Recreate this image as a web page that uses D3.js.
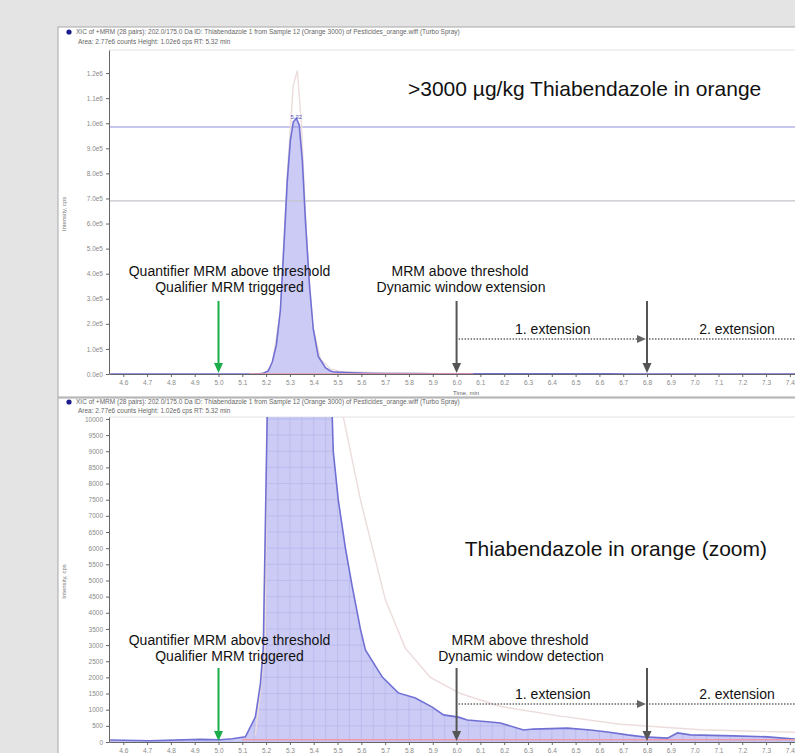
<!DOCTYPE html>
<html>
<head>
<meta charset="utf-8">
<style>
       body {
              margin: 0;
              background: #e4e4e4;
              font-family: "Liberation Sans", Arial, sans-serif;
       }
       svg {
              display: block;
       }
       .axis text {
              font-size: 6.5px;
              fill: #8a8a8a;
       }
       .axis path, .axis line {
              stroke: #666;
       }
       .header {
              font-size: 6.5px;
              fill: #666;
       }
       .note {
              font-size: 14px;
              fill: #111;
              text-anchor: middle;
       }
       .title {
              font-size: 21px;
              fill: #111;
       }
</style>
</head>
<body>
<script src="https://d3js.org/d3.v7.min.js"></script>
<script>

     // retention time (min) and counts of the quantifier trace (blue)
     var quantTime = [4.545, 4.713, 4.924, 5.008, 5.058, 5.113, 5.155, 5.176, 5.188, 5.209,
5.226, 5.243, 5.260, 5.276, 5.289, 5.302, 5.314, 5.327, 5.339, 5.352, 5.365, 5.382, 5.398,
5.419, 5.449, 5.470, 5.482, 5.503, 5.533, 5.562, 5.596, 5.617, 5.688, 5.755, 5.827, 5.898,
5.945, 6.008, 6.045, 6.142, 6.184, 6.281, 6.323, 6.466, 6.562, 6.634, 6.718, 6.785, 6.886,
6.928, 6.982, 7.163, 7.306, 7.424],
         quantCounts = [60, 40, 80, 70, 100, 160, 780, 1800, 2900, 12000, 48000, 116000,
255000, 534000, 773000, 933000, 1005000, 1020000, 993000, 853000, 614000, 355000, 180000,
70000, 25000, 12000, 9000, 7500, 6000, 4800, 3500, 2850, 2010, 1520, 1360, 1080, 840, 770,
680, 620, 590, 370, 400, 430, 370, 310, 220, 160, 120, 280, 220, 190, 160, 90];

     // qualifier trace (faint)
     var qualTime = [5.155, 5.197, 5.226, 5.260, 5.289, 5.314, 5.331, 5.348, 5.369, 5.394,
5.428, 5.470, 5.512, 5.596, 5.701, 5.785, 5.890, 6.016, 6.184, 6.436, 6.688, 7.024, 7.424],
         qualCounts = [200, 3000, 40000, 250000, 800000, 1150000, 1210000, 1000000, 560000,
200000, 60000, 20000, 10500, 7500, 4400, 2900, 2000, 1500, 1100, 800, 550, 380, 300];

     // red trace near the baseline
     var redTimeTop = [5.13, 6.07],
         redTimeZoom = [5.10, 7.43],
         redCounts = [70, 70];

     var thresholdCounts = [985000, 690000],
         apexTime = 5.327, apexCounts = 1020000, apexLabel = "5.32";

     var timeTicks = [4.6, 4.7, 4.8, 4.9, 5.0, 5.1, 5.2, 5.3, 5.4, 5.5, 5.6, 5.7, 5.8, 5.9,
6.0, 6.1, 6.2, 6.3, 6.4, 6.5, 6.6, 6.7, 6.8, 6.9, 7.0, 7.1, 7.2, 7.3, 7.4];

     var topTicks = [0, 1e5, 2e5, 3e5, 4e5, 5e5, 6e5, 7e5, 8e5, 9e5, 1e6, 1.1e6, 1.2e6],
         topTickLabels = ["0.0e0", "1.0e5", "2.0e5", "3.0e5", "4.0e5", "5.0e5", "6.0e5",
"7.0e5", "8.0e5", "9.0e5", "1.0e6", "1.1e6", "1.2e6"];

     var zoomTicks = [0, 500, 1000, 1500, 2000, 2500, 3000, 3500, 4000, 4500, 5000, 5500,
6000, 6500, 7000, 7500, 8000, 8500, 9000, 9500, 10000];

     // triggered at / window extension at
     var arrowTimes = [5.0, 6.0, 6.8];

     var width = 795,
         height = 753,
         plotLeft = 109,
         plotRight = 800;

     var svg = d3.select("body").append("svg")
          .attr("width", width)
          .attr("height", height);

     var defs = svg.append("defs");

     var x = d3.scaleLinear().domain([4.54, 7.43]).range([109, 797]);

     var panels = [
       { top: 27, bottom: 397, h1: 34, h2: 44, plotTop: 50, base: 374, yMax: 1.292e6,
         ticks: topTicks, labels: topTickLabels, grid: false, redTime: redTimeTop,
         title: ">3000 µg/kg Thiabendazole in orange", titleX: 408, titleY: 96, titleAnchor: "start",
         n1: 276, n2: 292, arrowTop: 301, tip: 373, dotY: 339, mrmX: 460, mrm2: "Dynamic window extension",
         headText: "XIC of +MRM (28 pairs): 202.0/175.0 Da ID: Thiabendazole 1 from Sample 12 (Orange 3000) of Pesticides_orange.wiff (Turbo Spray)",
         areaText: "Area: 2.77e6 counts  Height: 1.02e6 cps  RT: 5.32 min" },
       { top: 398, bottom: 760, h1: 404, h2: 413, plotTop: 417, base: 742, yMax: 10060,
         ticks: zoomTicks, labels: zoomTicks.map(String), grid: true, redTime: redTimeZoom,
         title: "Thiabendazole in orange (zoom)", titleX: 767, titleY: 556, titleAnchor: "end",
         n1: 645, n2: 661, arrowTop: 668, tip: 741, dotY: 704, mrmX: 520, mrm2: "Dynamic window detection",
         headText: "XIC of +MRM (28 pairs): 202.0/175.0 Da ID: Thiabendazole 1 from Sample 12 (Orange 3000) of Pesticides_orange.wiff (Turbo Spray)",
         areaText: "Area: 2.77e6 counts  Height: 1.02e6 cps  RT: 5.32 min" }
     ];

     panels.forEach(function(p, i) {

       var y = d3.scaleLinear().domain([0, p.yMax]).range([p.base, p.plotTop]);

       var g = svg.append("g");

       g.append("rect")
          .attr("x", 58).attr("y", p.top)
          .attr("width", plotRight - 58).attr("height", p.bottom - p.top)
          .attr("fill", "#fff")
          .attr("stroke", "#a8a8a8");

       g.append("circle")
          .attr("cx", 69).attr("cy", p.h1 - 2).attr("r", 2.6)
          .attr("fill", "#1c1c8c");

       g.append("text").attr("class", "header")
          .attr("x", 76).attr("y", p.h1)
          .text(p.headText);

       g.append("text").attr("class", "header")
          .attr("x", 78).attr("y", p.h2)
          .text(p.areaText);

       g.append("line")
          .attr("x1", plotLeft).attr("x2", plotRight)
          .attr("y1", p.plotTop).attr("y2", p.plotTop)
          .attr("stroke", "#e2e2e2");

       defs.append("clipPath").attr("id", "plot" + i)
         .append("rect")
          .attr("x", plotLeft).attr("y", p.plotTop)
          .attr("width", plotRight - plotLeft).attr("height", p.base - p.plotTop + 1);

       var plot = g.append("g").attr("clip-path", "url(#plot" + i + ")");

       var area = d3.area()
          .x(function(d) { return x(quantTime[d]); })
          .y0(y(0))
          .y1(function(d) { return y(quantCounts[d]); });

       var line = d3.line()
          .x(function(d) { return x(quantTime[d]); })
          .y(function(d) { return y(quantCounts[d]); });

       var idx = d3.range(quantTime.length);

       plot.append("path")
          .attr("d", area(idx))
          .attr("fill", "#cbcbf6");

       if (p.grid) {
         defs.append("clipPath").attr("id", "fill" + i)
           .append("path").attr("d", area(idx));

         var grid = plot.append("g")
            .attr("clip-path", "url(#fill" + i + ")")
            .attr("stroke", "#b2b2e8")
            .attr("stroke-width", 0.6);

         grid.selectAll("line.v")
             .data(x.ticks(60))
           .enter().append("line")
             .attr("x1", function(d) { return x(d); })
             .attr("x2", function(d) { return x(d); })
             .attr("y1", p.plotTop).attr("y2", p.base);

         grid.selectAll("line.h")
             .data(y.ticks(20))
           .enter().append("line")
             .attr("x1", plotLeft).attr("x2", plotRight)
             .attr("y1", function(d) { return y(d); })
             .attr("y2", function(d) { return y(d); });
       }

       if (i == 0) {
         plot.selectAll("line.threshold")
             .data(thresholdCounts)
           .enter().append("line")
             .attr("x1", plotLeft).attr("x2", plotRight)
             .attr("y1", function(d) { return y(d); })
             .attr("y2", function(d) { return y(d); })
             .attr("stroke", function(d, j) { return j == 0 ? "#8f8fdc" : "#c4c4cc"; })
             .attr("stroke-width", 1.2);
       }

       plot.append("path")
          .attr("d", d3.line()
               .x(function(d) { return x(qualTime[d]); })
               .y(function(d) { return y(qualCounts[d]); })(d3.range(qualTime.length)))
          .attr("fill", "none")
          .attr("stroke", "#eddcdc")
          .attr("stroke-width", 1.4);

       plot.append("path")
          .attr("d", line(idx))
          .attr("fill", "none")
          .attr("stroke", "#7070d4")
          .attr("stroke-width", 1.6);

       plot.append("path")
          .attr("d", d3.line()
               .x(function(d, j) { return x(p.redTime[j]); })
               .y(function(d) { return y(d); })(redCounts))
          .attr("fill", "none")
          .attr("stroke", "#ec9aa8")
          .attr("stroke-width", 1.6);

       if (i == 0) {
         g.append("text")
            .attr("x", x(apexTime)).attr("y", y(apexCounts) + 1)
            .attr("text-anchor", "middle")
            .attr("font-size", "6px")
            .attr("fill", "#5a5ab8")
            .text(apexLabel);
       }

       // axes
       g.append("g").attr("class", "axis")
          .attr("transform", "translate(0," + p.base + ")")
          .call(d3.axisBottom(x).tickValues(timeTicks).tickFormat(d3.format(".1f"))
                .tickSize(3).tickSizeOuter(0).tickPadding(3));

       g.append("g").attr("class", "axis")
          .attr("transform", "translate(" + plotLeft + ",0)")
          .call(d3.axisLeft(y).tickValues(p.ticks).tickFormat(function(d, j) { return p.labels[j]; })
                .tickSize(3).tickSizeOuter(0).tickPadding(3));

       g.append("text")
          .attr("transform", "translate(66," + ((p.plotTop + p.base) / 2 + 2) + ") rotate(-90)")
          .attr("text-anchor", "middle")
          .attr("font-size", "6px")
          .attr("fill", "#777")
          .text("Intensity, cps");

       if (i == 0) {
         g.append("text")
            .attr("x", 466).attr("y", 395)
            .attr("text-anchor", "middle")
            .attr("font-size", "6px")
            .attr("fill", "#666")
            .text("Time, min");
       }

       // annotations
       g.append("text").attr("class", "title")
          .attr("x", p.titleX).attr("y", p.titleY)
          .attr("text-anchor", p.titleAnchor)
          .text(p.title);

       var xq = x(arrowTimes[0]), xa = x(arrowTimes[1]), xb = x(arrowTimes[2]);

       g.append("text").attr("class", "note").attr("x", xq + 11).attr("y", p.n1)
          .text("Quantifier MRM above threshold");
       g.append("text").attr("class", "note").attr("x", xq + 11).attr("y", p.n2)
          .text("Qualifier MRM triggered");
       g.append("text").attr("class", "note").attr("x", p.mrmX).attr("y", p.n1)
          .text("MRM above threshold");
       g.append("text").attr("class", "note").attr("x", p.mrmX + 1).attr("y", p.n2)
          .text(p.mrm2);

       arrowTimes.forEach(function(t, j) {
         var ax = x(t), col = j == 0 ? "#1aae4a" : "#555";
         g.append("line")
            .attr("x1", ax).attr("x2", ax)
            .attr("y1", p.arrowTop).attr("y2", p.tip - 8)
            .attr("stroke", col).attr("stroke-width", 2);
         g.append("path")
            .attr("d", "M" + (ax - 4.5) + "," + (p.tip - 10) + "L" + (ax + 4.5) + "," + (p.tip - 10) + "L" + ax + "," + p.tip + "Z")
            .attr("fill", col);
       });

       g.append("line")
          .attr("x1", xa + 2).attr("x2", xb - 8)
          .attr("y1", p.dotY).attr("y2", p.dotY)
          .attr("stroke", "#666").attr("stroke-width", 1.5)
          .attr("stroke-dasharray", "1.5,1.5");
       g.append("path")
          .attr("d", "M" + (xb - 10) + "," + (p.dotY - 4) + "L" + (xb - 10) + "," + (p.dotY + 4) + "L" + (xb - 1) + "," + p.dotY + "Z")
          .attr("fill", "#666");
       g.append("line")
          .attr("x1", xb + 2).attr("x2", plotRight)
          .attr("y1", p.dotY).attr("y2", p.dotY)
          .attr("stroke", "#666").attr("stroke-width", 1.5)
          .attr("stroke-dasharray", "1.5,1.5");

       g.append("text").attr("class", "note")
          .attr("x", (xa + xb) / 2 + 1).attr("y", p.dotY - 5)
          .text("1. extension");
       g.append("text").attr("class", "note")
          .attr("x", xb + 90).attr("y", p.dotY - 5)
          .text("2. extension");
     });

</script>
</body>
</html>
